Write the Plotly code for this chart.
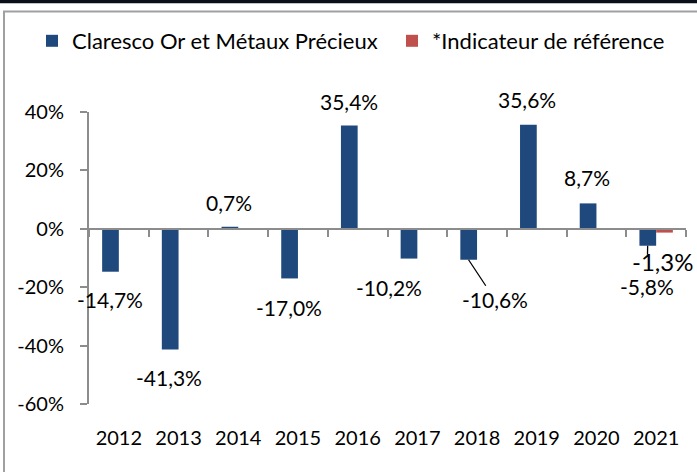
import plotly.graph_objects as go

# ---- data ----
years = ["2012", "2013", "2014", "2015", "2016", "2017", "2018", "2019", "2020", "2021"]
fund_values = [-14.7, -41.3, 0.7, -17.0, 35.4, -10.2, -10.6, 35.6, 8.7, -5.8]
bench_values = [None, None, None, None, None, None, None, None, None, -1.3]
fund_name = "Claresco Or et Métaux Précieux"
bench_name = "*Indicateur de référence"
y_tick_values = [-60, -40, -20, 0, 20, 40]
y_tick_labels = ["-60%", "-40%", "-20%", "0%", "20%", "40%"]

# ---- styles ----
BLUE = "#1F497D"
RED = "#C0504D"
GREY = "#8C8C8C"
FONT = "Lato, Liberation Sans, Arial"
W, H = 697, 472
ML, MR, MT, MB = 89, 11, 112, 68
PW, PH = W - ML - MR, H - MT - MB
LABEL_SIZE = 21

# label offsets (xshift, yshift) in px, relative to category centre / bar end
fund_label_offsets = [(-9, -28), (-9.6, -28), (-9, 24), (-9, -29), (-9, 24),
                      (-28, -29), None, (-9.3, 25), (-9.2, 25.5), None]


def fmt(v):
    return f"{v:.1f}".replace(".", ",") + "%"


def px_x(p):
    return (p - ML) / PW


def px_y(p):
    return (H - MB - p) / PH


fig = go.Figure()
fig.add_trace(go.Bar(x=years, y=fund_values, name=fund_name, marker_color=BLUE,
                     marker_line_width=0, legend="legend"))
fig.add_trace(go.Bar(x=years, y=bench_values, name=bench_name, marker_color=RED,
                     marker_line_width=0, legend="legend2"))
# helper trace for the zero-line category axis
fig.add_trace(go.Scatter(x=years, y=[None] * len(years), xaxis="x2", yaxis="y",
                         showlegend=False, hoverinfo="skip", mode="markers"))

annotations = []
for i, (v, off) in enumerate(zip(fund_values, fund_label_offsets)):
    if off is None:
        continue
    annotations.append(dict(x=i, y=v, xref="x", yref="y", text=fmt(v), showarrow=False,
                            xshift=off[0], yshift=off[1], xanchor="center", yanchor="middle",
                            font=dict(size=LABEL_SIZE, color="black", family=FONT)))
# 2018 label with leader line
annotations.append(dict(x=6, y=fund_values[6], xref="x", yref="y", text=fmt(fund_values[6]),
                        showarrow=True, arrowhead=0, arrowwidth=1.3, arrowcolor="black",
                        ax=26.5, ay=40, xshift=-8.5,
                        font=dict(size=LABEL_SIZE, color="black", family=FONT)))
# 2021 fund label with short leader
annotations.append(dict(x=9, y=fund_values[9], xref="x", yref="y", text=fmt(fund_values[9]),
                        showarrow=True, arrowhead=0, arrowwidth=1.3, arrowcolor="black",
                        ax=-0.7, ay=41, xshift=-8.5, startstandoff=18,
                        font=dict(size=LABEL_SIZE, color="black", family=FONT)))
# 2021 benchmark label
annotations.append(dict(x=9, y=bench_values[9], xref="x", yref="y", text=fmt(bench_values[9]),
                        showarrow=False, xshift=6, yshift=-29, xanchor="center", yanchor="middle",
                        font=dict(size=24, color="black", family=FONT)))

shapes = [
    dict(type="line", xref="paper", yref="paper", x0=px_x(0), x1=px_x(W), y0=px_y(1.5), y1=px_y(1.5),
         line=dict(color="#0b0f1a", width=3.5)),
    dict(type="line", xref="paper", yref="paper", x0=px_x(3), x1=px_x(W), y0=px_y(11.5), y1=px_y(11.5),
         line=dict(color="#a0a0a0", width=2)),
    dict(type="line", xref="paper", yref="paper", x0=px_x(4), x1=px_x(4), y0=px_y(11.5), y1=px_y(H),
         line=dict(color="#a0a0a0", width=2)),
]

legend_style = dict(orientation="h", xanchor="left", yanchor="middle", y=px_y(41),
                    font=dict(size=22, family=FONT, color="black"), bgcolor="rgba(0,0,0,0)")

fig.update_layout(
    width=W, height=H,
    margin=dict(l=ML, r=MR, t=MT, b=MB, pad=0),
    paper_bgcolor="white", plot_bgcolor="white",
    font=dict(family=FONT, size=20, color="black"),
    barmode="group", bargap=0.44, bargroupgap=0,
    showlegend=True,
    legend=dict(x=px_x(32), **legend_style),
    legend2=dict(x=px_x(392), **legend_style),
    xaxis=dict(type="category", range=[-0.5, 9.5], showline=False, ticks="", showgrid=False,
               zeroline=False, tickfont=dict(size=20), ticklabelstandoff=20),
    xaxis2=dict(type="category", overlaying="x", anchor="free", position=px_y(229), range=[-0.5, 9.5],
                tickson="boundaries", ticks="outside", ticklen=7, tickwidth=2, tickcolor=GREY,
                showline=True, linecolor=GREY, linewidth=2, showticklabels=False, showgrid=False,
                zeroline=False),
    yaxis=dict(range=[-60, 40], tickmode="array", tickvals=y_tick_values, ticktext=y_tick_labels,
               ticks="outside", ticklen=7, tickwidth=2, tickcolor=GREY, showline=True,
               linecolor=GREY, linewidth=2, showgrid=False, zeroline=False,
               tickfont=dict(size=20), ticklabelstandoff=12),
    annotations=annotations,
    shapes=shapes,
)

fig.write_html("out.html", config={"displayModeBar": False},
               post_script="document.body.style.margin='0';document.body.style.overflow='hidden';")
